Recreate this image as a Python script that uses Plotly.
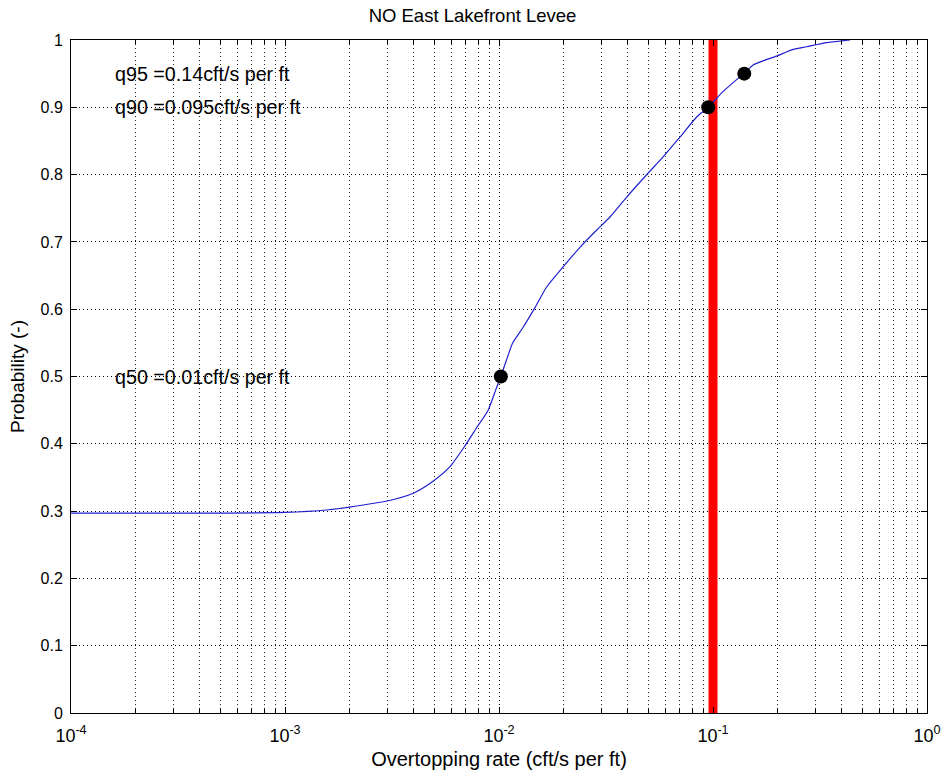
import math
import plotly.graph_objects as go

# Cumulative probability curve (overtopping rate in cft/s per ft)
rate = [1.0e-4, 3.2e-4, 1.0e-3, 1.6e-3, 2.0e-3, 3.0e-3, 4.0e-3, 4.9e-3, 5.9e-3,
        6.9e-3, 7.9e-3, 8.9e-3, 9.7e-3, 1.02e-2, 1.16e-2, 1.29e-2, 1.47e-2,
        1.67e-2, 1.97e-2, 2.39e-2, 2.87e-2, 3.30e-2, 3.96e-2, 4.97e-2, 5.83e-2,
        7.02e-2, 8.41e-2, 9.5e-2, 0.111, 0.14, 0.154, 0.171, 0.198, 0.237,
        0.274, 0.340, 0.437]
prob = [0.297, 0.297, 0.298, 0.302, 0.306, 0.315, 0.327, 0.344, 0.366,
        0.396, 0.425, 0.450, 0.482, 0.500, 0.550, 0.572, 0.602,
        0.633, 0.661, 0.692, 0.718, 0.737, 0.767, 0.802, 0.826,
        0.856, 0.886, 0.900, 0.923, 0.951, 0.963, 0.969, 0.976, 0.986,
        0.990, 0.996, 1.000]

# Quantile points
q_rates = [0.0102, 0.095, 0.14]
q_probs = [0.5, 0.9, 0.95]
q_labels = ["q50 =0.01cft/s per ft", "q90 =0.095cft/s per ft", "q95 =0.14cft/s per ft"]

# Critical rate (red vertical line)
crit_rate = 0.1

major_x = [1e-4, 1e-3, 1e-2, 1e-1, 1]
major_x_text = ["10<sup>-4</sup>", "10<sup>-3</sup>", "10<sup>-2</sup>", "10<sup>-1</sup>", "10<sup>0</sup>"]
minor_x = [m * 10.0 ** e for e in range(-4, 0) for m in range(2, 10)]
y_ticks = [round(i * 0.1, 1) for i in range(11)]
y_text = ["0", "0.1", "0.2", "0.3", "0.4", "0.5", "0.6", "0.7", "0.8", "0.9", "1"]

font = "Liberation Sans, Arial, sans-serif"
grid_dash = "1px,3px"

fig = go.Figure()
fig.add_trace(go.Scatter(x=[crit_rate, crit_rate], y=[0, 1], mode="lines",
                         line=dict(color="#ff0000", width=9), showlegend=False))
fig.add_trace(go.Scatter(x=rate, y=prob, mode="lines",
                         line=dict(color="#2020d0", width=1.2, shape="spline",
                                   smoothing=0.6), showlegend=False))
fig.add_trace(go.Scatter(x=q_rates, y=q_probs, mode="markers",
                         marker=dict(color="black", size=14), showlegend=False))

ann_x = 1.57e-4
for p, t in zip(q_probs, q_labels):
    fig.add_annotation(x=math.log10(ann_x), y=p, text=t, showarrow=False,
                       xanchor="left", yanchor="middle", xref="x", yref="y",
                       font=dict(family=font, size=19.7, color="black"))

fig.update_layout(
    width=945, height=776,
    margin=dict(l=71, r=18, t=40, b=63, autoexpand=False),
    paper_bgcolor="white", plot_bgcolor="white",
    title=dict(text="NO East Lakefront Levee", x=0.5, xanchor="center",
               y=1 - 16 / 776, yanchor="middle",
               font=dict(family=font, size=18.5, color="black")),
    font=dict(family=font, size=16, color="black"),
    xaxis=dict(type="log", range=[-4, 0], tickmode="array", tickvals=major_x,
               ticktext=major_x_text, ticks="inside", ticklen=6, tickcolor="black",
               showline=True, linecolor="black", linewidth=1, mirror="allticks",
               showgrid=True, gridcolor="#000000", griddash=grid_dash, gridwidth=1,
               minor=dict(tickmode="array", tickvals=minor_x, ticks="inside",
                          ticklen=4, tickcolor="black", showgrid=True,
                          gridcolor="#222222", griddash=grid_dash, gridwidth=1),
               zeroline=False, automargin=False, ticklabelstandoff=6,
               tickfont=dict(family=font, size=18),
               title=dict(text="Overtopping rate (cft/s per ft)", standoff=7,
                          font=dict(family=font, size=20))),
    yaxis=dict(range=[0, 1], tickmode="array", tickvals=y_ticks, ticktext=y_text,
               ticks="inside", ticklen=6, tickcolor="black",
               showline=True, linecolor="black", linewidth=1, mirror="allticks",
               showgrid=True, gridcolor="#000000", griddash=grid_dash, gridwidth=1,
               zeroline=False, automargin=False, ticklabelstandoff=4,
               tickfont=dict(family=font, size=16),
               title=dict(text="Probability (-)", standoff=10,
                          font=dict(family=font, size=19))),
)

fig.write_html("out.html")
